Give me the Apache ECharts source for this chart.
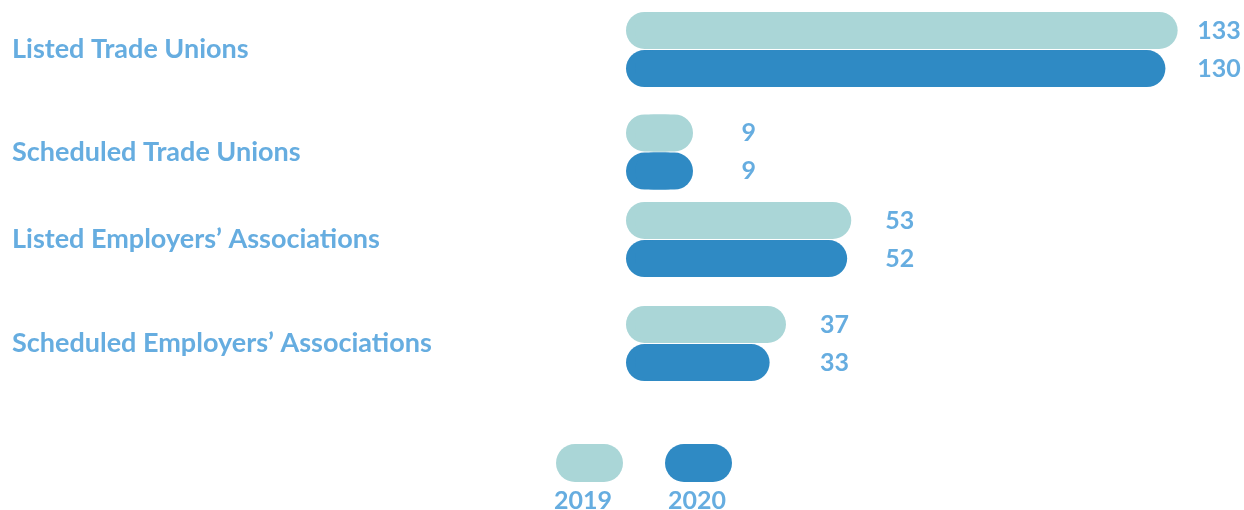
<!DOCTYPE html>
<html>
<head>
<meta charset="utf-8">
<script src="https://cdn.jsdelivr.net/npm/echarts@6/dist/echarts.min.js"></script>
<style>
  html, body { margin: 0; padding: 0; background: #fff; }
  #chart { width: 1244px; height: 510px; }
</style>
</head>
<body>
<div id="chart"></div>
<script>
const categories = [
  'Listed Trade Unions',
  'Scheduled Trade Unions',
  'Listed Employers\u2019 Associations',
  'Scheduled Employers\u2019 Associations'
];
const years = ['2019', '2020'];
const values2019 = [133, 9, 53, 37];
const values2020 = [130, 9, 52, 33];

const lightColor = '#aad6d7';
const darkColor = '#2f8ac4';
const textColor = '#66ade0';
const fontFamily = 'Lato, "Open Sans", sans-serif';

// one grid per category pair, so the uneven spacing of the original can be kept
const gridTops = [11.5, 114, 201.5, 305.5];
const labelShift = [-3.5, 0, 2, 2];
const xMax = 140;
const plotWidth = 571.2;
const pxPerUnit = plotWidth / xMax;

const chart = echarts.init(document.getElementById('chart'));

const grids = [], xAxes = [], yAxes = [], series = [];
categories.forEach(function (cat, i) {
  grids.push({ left: 635, top: gridTops[i], width: plotWidth, height: 76 });
  xAxes.push({ type: 'value', gridIndex: i, min: 0, max: xMax, show: false });
  const s = labelShift[i];
  yAxes.push({
    type: 'category', gridIndex: i, data: [cat], inverse: true,
    axisLine: { show: false }, axisTick: { show: false },
    axisLabel: {
      align: 'left', margin: 623,
      padding: s < 0 ? [0, 0, -2 * s, 0] : [2 * s, 0, 0, 0],
      color: textColor, fontSize: 27, fontWeight: 'bold', fontFamily: fontFamily
    }
  });
  [values2019, values2020].forEach(function (vals, k) {
    const color = k === 0 ? lightColor : darkColor;
    // 2020 labels line up with the 2019 label of the same pair
    const dx = k === 1 ? (values2019[i] - values2020[i]) * pxPerUnit : 0;
    series.push({
      name: years[k],
      type: 'bar',
      xAxisIndex: i,
      yAxisIndex: i,
      data: [{ value: vals[i], label: { offset: [dx, 0] } }],
      barWidth: 37,
      barGap: '3%',
      barMinHeight: 58,
      itemStyle: {
        color: color, borderRadius: 18.5,
        // solid copy shifted left so the pill starts a little before zero
        shadowColor: color, shadowBlur: 0, shadowOffsetX: -9
      },
      label: {
        show: true, position: 'right', align: 'right', distance: 63,
        color: textColor, fontSize: 25, fontWeight: 'bold', fontFamily: fontFamily
      },
      emphasis: { disabled: true }
    });
  });
});

const pill = 'path://M19,0 H48 A19,19 0 0 1 48,38 H19 A19,19 0 0 1 19,0 Z';
const legendLeft = [556, 665];
const legendTextX = [583, 697];

chart.setOption({
  animation: false,
  grid: grids,
  xAxis: xAxes,
  yAxis: yAxes,
  series: series,
  legend: years.map(function (y, k) {
    return {
      data: [{ name: y, icon: pill }],
      left: legendLeft[k],
      top: 444,
      itemWidth: 67,
      itemHeight: 38,
      padding: 0,
      selectedMode: false,
      formatter: function () { return ''; }
    };
  }),
  graphic: years.map(function (y, k) {
    return {
      type: 'text',
      x: legendTextX[k],
      y: 488,
      style: {
        text: y, align: 'center', verticalAlign: 'top',
        fill: textColor, fontSize: 25, fontWeight: 'bold', fontFamily: fontFamily
      }
    };
  })
});
</script>
</body>
</html>
